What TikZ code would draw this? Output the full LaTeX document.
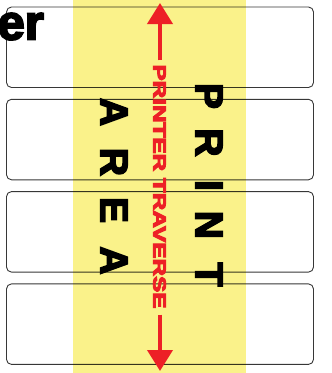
\documentclass[tikz,border=0pt]{standalone}
\usepackage{fontspec}
\usepackage{graphicx}
\setmainfont{Liberation Sans}
\newfontfamily\heavyfont{Liberation Sans}[BoldFeatures={FakeBold=4}]
\newfontfamily\redfont{Liberation Sans}[BoldFeatures={FakeBold=5}]
\usetikzlibrary{arrows.meta}
\definecolor{bandyellow}{RGB}{250,242,138}
\definecolor{travred}{RGB}{237,32,38}
\definecolor{boxline}{RGB}{55,55,55}
\begin{document}
\begin{tikzpicture}[x=1pt,y=-1pt,
  lanebox/.style={draw=boxline,line width=0.9pt,rounded corners=5pt,minimum width=307pt,minimum height=80.5pt,inner sep=0pt},
  bigletter/.style={font=\fontsize{39}{39}\heavyfont\bfseries,rotate=-90,inner sep=0pt,anchor=center},
  travarrow/.style={draw=travred,line width=4pt,-{Triangle[width=25pt,length=21pt]}}
]
\useasboundingbox (0,0) rectangle (332,373);
\clip (0,0) rectangle (332,373);
% lanes
\node[lanebox] (box1) at (160,47.25) {};
\node[lanebox] (box2) at (160,139.55) {};
\node[lanebox] (box3) at (160,231.85) {};
\node[lanebox] (box4) at (160,324.15) {};
% header fragment
\node[font=\fontsize{49}{49}\heavyfont\bfseries,anchor=base east,inner sep=0pt] (hdr) at (44,39.5) {er};
% print band
\begin{scope}[blend mode=multiply]
\fill[bandyellow] (73,0) rectangle (246,373);
\end{scope}
% PRINT
\node[bigletter] (p1) at (209,96) {P};
\node[bigletter] (p2) at (209,142.5) {R};
\node[bigletter] (p3) at (209,185.5) {I};
\node[bigletter] (p4) at (209,225) {N};
\node[bigletter] (p5) at (209,274.5) {T};
% AREA
\node[bigletter] (a1) at (114,112) {A};
\node[bigletter] (a2) at (114,162) {R};
\node[bigletter] (a3) at (114,210) {E};
\node[bigletter] (a4) at (114,260.5) {A};
% printer traverse
\node[rotate=-90,inner sep=0pt,text=travred] (trav) at (159.5,186.5) {\resizebox{244pt}{12.5pt}{\redfont\bfseries PRINTER TRAVERSE}};
\coordinate (uptip) at (160,3);
\coordinate (downtip) at (160,371);
\draw[travarrow,shorten <=4pt] (uptip |- trav.west) -- (uptip);
\draw[travarrow,shorten <=6pt] (downtip |- trav.east) -- (downtip);
\end{tikzpicture}
\end{document}
